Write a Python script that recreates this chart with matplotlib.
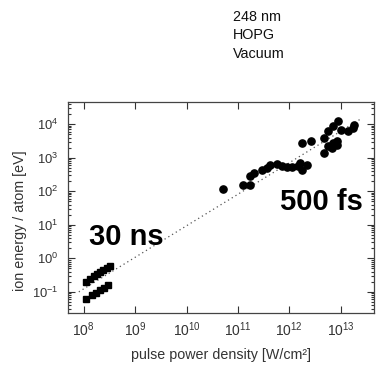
import numpy as np
import matplotlib
matplotlib.use('Agg')
import matplotlib.pyplot as plt
from matplotlib.ticker import LogLocator, NullLocator

plt.rcParams['font.family'] = ['Liberation Sans', 'DejaVu Sans']

# 30 ns data (squares), two bands
ns_x = [1.1e8, 1.35e8, 1.6e8, 1.8e8, 2.1e8, 2.4e8, 2.8e8, 3.2e8,
        1.1e8, 1.45e8, 1.75e8, 2.1e8, 2.5e8, 3.0e8]
ns_y = [0.2, 0.25, 0.3, 0.35, 0.4, 0.45, 0.5, 0.6,
        0.06, 0.08, 0.095, 0.11, 0.13, 0.16]

# 500 fs data (circles)
fs_x = [5.1e10, 1.25e11, 1.75e11, 1.75e11, 2.1e11, 3.0e11, 3.7e11, 4.3e11,
        5.8e11, 7.2e11, 9.1e11, 1.15e12, 1.45e12, 1.65e12, 1.8e12, 2.25e12,
        1.8e12, 2.6e12, 4.7e12, 4.7e12, 5.8e12, 7.2e12, 8.7e12, 5.8e12,
        7.2e12, 9.1e12, 1.0e13, 1.4e13, 1.75e13, 1.8e13, 6.9e12, 8.7e12]
fs_y = [120, 150, 150, 280, 350, 420, 490, 600,
        650, 560, 520, 520, 560, 690, 430, 600,
        2700, 3100, 3800, 1350, 2200, 2700, 3100, 6200,
        8700, 12300, 6600, 6200, 7600, 9300, 1900, 2350]

# dotted guide line end points
fit_x = [8.0e7, 2.5e13]
fit_y = [0.1, 1.45e4]

# tick positions
xticks = [1e8, 1e9, 1e10, 1e11, 1e12, 1e13]
yticks = [1e-1, 1e0, 1e1, 1e2, 1e3, 1e4]

fig = plt.figure(figsize=(3.77, 3.65), dpi=100)
ax = fig.add_axes([0.180, 0.1425, 0.812, 0.578])

ax.plot(fit_x, fit_y, ls=(0, (1, 2.5)), color='#555555', lw=0.9)
ax.plot(ns_x, ns_y, 's', color='black', ms=4.6, mec='black')
ax.plot(fs_x, fs_y, 'o', color='black', ms=5.2, mec='black')

ax.set_xscale('log')
ax.set_yscale('log')
ax.set_xlim(10**7.69, 10**13.65)
ax.set_ylim(10**-1.63, 10**4.66)

ax.set_xticks(xticks)
ax.xaxis.set_minor_locator(NullLocator())
ax.set_yticks(yticks)
ax.yaxis.set_minor_locator(LogLocator(base=10, subs=np.arange(2, 10), numticks=20))
ax.yaxis.set_minor_formatter(plt.NullFormatter())

ax.tick_params(which='both', direction='in', top=True, right=True,
               colors='#333333', width=0.8)
ax.tick_params(which='major', length=5)
ax.tick_params(which='minor', length=2.5)
ax.tick_params(axis='y', which='major', pad=7, labelsize=9.4)
ax.tick_params(axis='x', which='major', pad=5, labelsize=10)
for s in ax.spines.values():
    s.set_color('#444444')
    s.set_linewidth(0.9)

ax.set_xlabel('pulse power density [W/cm²]', fontsize=10.3, color='#333333', labelpad=7)
ax.set_ylabel('ion energy / atom [eV]', fontsize=10.3, color='#333333')
ax.yaxis.set_label_coords(-0.135, 0.436)

ax.text(0.069, 0.322, '30 ns', transform=ax.transAxes, fontsize=21,
        fontweight='bold', color='black')
ax.text(0.693, 0.488, '500 fs', transform=ax.transAxes, fontsize=21,
        fontweight='bold', color='black')

fig.text(0.617, 0.972, '248 nm\nHOPG\nVacuum', fontsize=10.4, color='#111111',
         va='top', ha='left', linespacing=1.38)

fig.savefig('out.png', dpi=100)
